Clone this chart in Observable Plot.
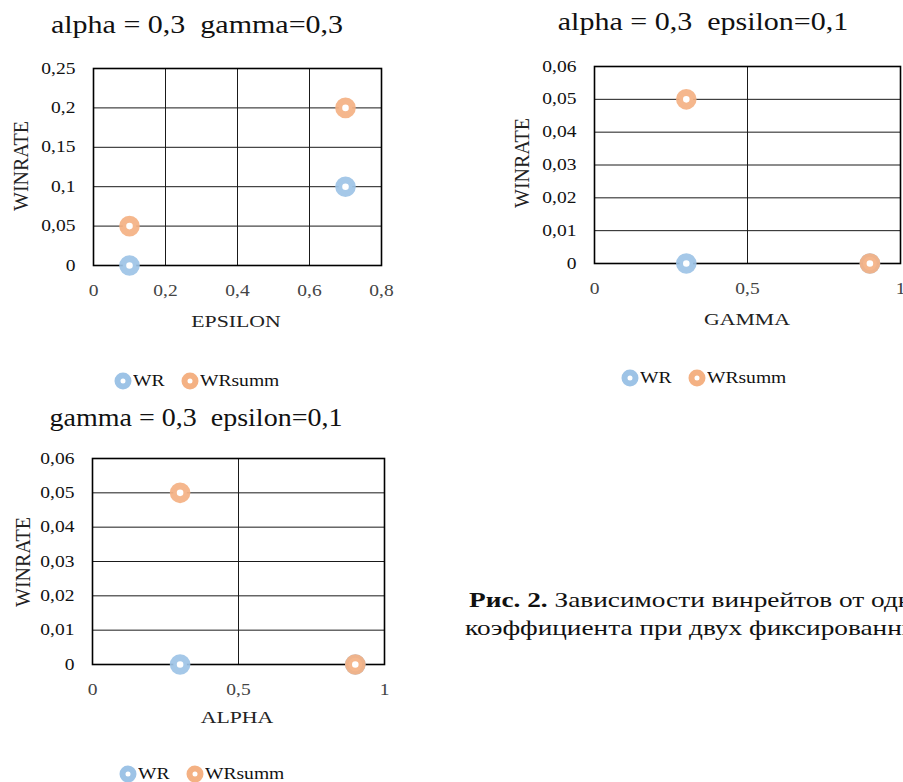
<!DOCTYPE html>
<html>
<head>
<meta charset="utf-8">
<script src="https://cdn.jsdelivr.net/npm/d3@7"></script>
<script src="https://cdn.jsdelivr.net/npm/@observablehq/plot@0.6"></script>
<style>
  html, body { margin: 0; padding: 0; background: #fff; }
  body { width: 903px; height: 782px; overflow: hidden; position: relative;
         font-family: "Liberation Serif", "Times New Roman", serif; color: #111; }
  .abs { position: absolute; white-space: pre; }
  .title { font-size: 25px; transform: translate(-50%, -50%) scaleX(1.2); }
  .title.t3 { transform: translate(-50%, -50%) scaleX(1.12); }
  .xlab { font-size: 17px; transform: translate(-50%, -50%) scaleX(1.28); color: #222; }
  .ylab { font-size: 20px; transform: translate(-50%, -50%) rotate(-90deg) scaleY(1.05); color: #222; }
  .leg { font-size: 17px; display: flex; align-items: center; transform: translateY(-50%); }
  .leg span.t { display: inline-block; transform: scaleX(1.15); transform-origin: left center; }
  .leg svg { margin-right: 1px; }
  .cap { font-size: 21px; color: #111; transform-origin: left center; transform: scaleX(1.3); }
  svg.plot { position: absolute; overflow: visible; }
</style>
</head>
<body>
<script>
// ---------- data ----------
const seriesNames = ["WR", "WRsumm"];
const seriesColors = ["#9DC3E6", "#F4B183"];

// chart 1: alpha = 0,3 gamma = 0,3 ; x = EPSILON
const epsX = [0.1, 0.7];
const epsWR = [0, 0.1];
const epsWRsumm = [0.05, 0.2];
const epsXTicks = [0, 0.2, 0.4, 0.6, 0.8];
const epsYTicks = [0, 0.05, 0.1, 0.15, 0.2, 0.25];

// chart 2: alpha = 0,3 epsilon = 0,1 ; x = GAMMA
const gamX = [0.3, 0.9];
const gamWR = [0, 0];
const gamWRsumm = [0.05, 0];
const gamXTicks = [0, 0.5, 1];
const gamYTicks = [0, 0.01, 0.02, 0.03, 0.04, 0.05, 0.06];

// chart 3: gamma = 0,3 epsilon = 0,1 ; x = ALPHA
const alpX = [0.3, 0.9];
const alpWR = [0, 0];
const alpWRsumm = [0.05, 0];
const alpXTicks = [0, 0.5, 1];
const alpYTicks = [0, 0.01, 0.02, 0.03, 0.04, 0.05, 0.06];

const titles = ["alpha = 0,3  gamma=0,3", "alpha = 0,3  epsilon=0,1", "gamma = 0,3  epsilon=0,1"];
const xLabels = ["EPSILON", "GAMMA", "ALPHA"];
const yLabel = "WINRATE";
const captionBold = "Рис. 2.";
const captionLine1 = " Зависимости винрейтов от одного";
const captionLine2 = "коэффициента при двух фиксированных";

// ---------- helpers ----------
const fmt = d => String(d).replace(".", ",");
const TX = 1.22;

function rows(xs, wr, wrs) {
  const out = [];
  xs.forEach((x, i) => out.push({x, y: wr[i], s: seriesNames[0]}));
  xs.forEach((x, i) => out.push({x, y: wrs[i], s: seriesNames[1]}));
  return out;
}

function makeChart(cfg) {
  const data = rows(cfg.xs, cfg.wr, cfg.wrs);
  const svg = Plot.plot({
    width: cfg.width, height: cfg.height,
    marginLeft: cfg.ml, marginRight: cfg.mr, marginTop: cfg.mt, marginBottom: cfg.mb,
    style: {fontFamily: "'Liberation Serif', 'Times New Roman', serif", fontSize: "16px", background: "transparent", overflow: "visible"},
    x: {domain: cfg.xDomain, ticks: cfg.xTicks, tickFormat: fmt, tickSize: 0, tickPadding: 19, label: null},
    y: {domain: cfg.yDomain, ticks: cfg.yTicks, tickFormat: fmt, tickSize: 0, tickPadding: 18, label: null},
    color: {domain: seriesNames, range: seriesColors},
    marks: [
      Plot.ruleY(cfg.yTicks, {stroke: "#1a1a1a", strokeWidth: 1}),
      Plot.ruleX(cfg.xTicks, {stroke: "#1a1a1a", strokeWidth: 1}),
      Plot.frame({stroke: "#000", strokeWidth: 1.6}),
      Plot.dot(data, {x: "x", y: "y", stroke: "s", fill: "white", r: 6.8, strokeWidth: 7, strokeOpacity: 0.92})
    ]
  });
  svg.classList.add("plot");
  svg.style.left = cfg.left + "px";
  svg.style.top = cfg.top + "px";
  svg.querySelectorAll("g[aria-label='x-axis tick label']").forEach(g => g.setAttribute("fill", "#444"));
  svg.querySelectorAll("g[aria-label='y-axis tick label']").forEach(g => g.setAttribute("fill", "#111"));
  svg.querySelectorAll("text").forEach(t => {
    if (!t.hasAttribute("x") || +t.getAttribute("x") === 0) {
      const tr = t.getAttribute("transform") || "";
      t.setAttribute("transform", tr + ` scale(${TX},1)`);
    }
  });
  document.body.appendChild(svg);
}

function addText(cls, text, x, y) {
  const d = document.createElement("div");
  d.className = "abs " + cls;
  d.textContent = text;
  d.style.left = x + "px";
  d.style.top = y + "px";
  document.body.appendChild(d);
  return d;
}

function ring(color) {
  return `<svg width="18" height="18" viewBox="0 0 18 18"><circle cx="9" cy="9" r="5.5" fill="white" stroke="${color}" stroke-width="6"/></svg>`;
}

function addLegend(x, y) {
  const d = document.createElement("div");
  d.className = "abs leg";
  d.style.left = x + "px";
  d.style.top = y + "px";
  d.innerHTML = `${ring(seriesColors[0])}<span class="t" style="margin-right:21px">${seriesNames[0]}</span>` +
                `${ring(seriesColors[1])}<span class="t">${seriesNames[1]}</span>`;
  document.body.appendChild(d);
}

// ---------- charts ----------
makeChart({xs: epsX, wr: epsWR, wrs: epsWRsumm, xDomain: [0, 0.8], yDomain: [0, 0.25],
  xTicks: epsXTicks, yTicks: epsYTicks, width: 400, height: 300, ml: 93, mr: 19, mt: 28, mb: 75, left: 0, top: 40});
makeChart({xs: gamX, wr: gamWR, wrs: gamWRsumm, xDomain: [0, 1], yDomain: [0, 0.06],
  xTicks: gamXTicks, yTicks: gamYTicks, width: 403, height: 300, ml: 94, mr: 3, mt: 26, mb: 77, left: 500, top: 40});
makeChart({xs: alpX, wr: alpWR, wrs: alpWRsumm, xDomain: [0, 1], yDomain: [0, 0.06],
  xTicks: alpXTicks, yTicks: alpYTicks, width: 400, height: 300, ml: 92, mr: 16, mt: 28, mb: 66, left: 0, top: 430});

addText("title", titles[0], 197, 25);
addText("title", titles[1], 703, 22);
addText("title t3", titles[2], 196, 418);

addText("xlab", xLabels[0], 236, 322);
addText("xlab", xLabels[1], 747, 320);
addText("xlab", xLabels[2], 237, 718);

addText("ylab", yLabel, 21, 166);
addText("ylab", yLabel, 522, 163);
addText("ylab", yLabel, 23, 562);

addLegend(114, 381);
addLegend(621, 378);
addLegend(119, 774);

// caption
const c1 = document.createElement("div");
c1.className = "abs cap";
c1.style.left = "469px"; c1.style.top = "588px";
c1.innerHTML = `<b>${captionBold}</b>${captionLine1}`;
document.body.appendChild(c1);
addText("cap", captionLine2, 465, 616);
</script>
</body>
</html>
